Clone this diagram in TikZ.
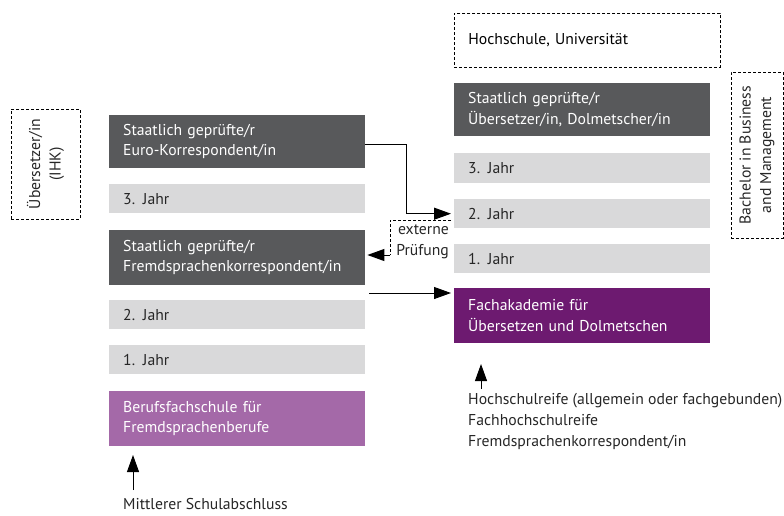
\documentclass[tikz,border=0pt]{standalone}
\usepackage{fontspec}
\setmainfont{PT Sans}
\usetikzlibrary{arrows.meta,positioning}
\definecolor{dgray}{HTML}{58595B}
\definecolor{lgray}{HTML}{D9D9DA}
\definecolor{lpurp}{HTML}{A469A8}
\definecolor{dpurp}{HTML}{6D1A70}
\begin{document}
\begin{tikzpicture}[x=1pt,y=-1pt,
  every node/.style={font=\fontsize{15.7}{20.5}\selectfont},
  box/.style={anchor=north west, minimum width=256pt, text width=228pt, inner xsep=14pt, inner ysep=0pt, align=left},
  darkbox/.style={box, fill=dgray, text=white, minimum height=53pt},
  yearbox/.style={box, fill=lgray, text=black!85, minimum height=29pt},
  lpbox/.style={box, fill=lpurp, text=white, minimum height=55pt},
  dpbox/.style={box, fill=dpurp, text=white, minimum height=55pt},
  dashbox/.style={draw, dashed, line width=0.8pt, dash pattern=on 3pt off 2pt},
  arr/.style={-{Triangle[length=17pt,width=12pt]}, line width=1pt},
  plain/.style={anchor=north west, inner sep=0pt, align=left, text=black!85}
]
\useasboundingbox (0,0) rectangle (784,515);
% left column
\node[darkbox] (L1) at (109,115) {Staatlich geprüfte/r\\Euro-Korrespondent/in};
\node[yearbox] (L2) at (109,184) {3. Jahr};
\node[darkbox, minimum height=55pt] (L3) at (109,230) {Staatlich geprüfte/r\\Fremdsprachenkorrespondent/in};
\node[yearbox] (L4) at (109,300) {2. Jahr};
\node[yearbox] (L5) at (109,345) {1. Jahr};
\node[lpbox] (L6) at (109,391) {Berufsfachschule für\\Fremdsprachenberufe};
\node[plain, anchor=south west] (L7) at (123,510) {Mittlerer Schulabschluss};
\coordinate (L7a) at (133,490);
\draw[arr] (L7a) -- (133,455);
% right column
\node[box, dashbox, minimum height=54pt, minimum width=266pt, text width=238pt] (R0) at (454,13) {Hochschule, Universität};
\node[darkbox] (R1) at (454,83) {Staatlich geprüfte/r\\Übersetzer/in, Dolmetscher/in};
\node[yearbox, minimum height=30pt] (R2) at (454,153) {3. Jahr};
\node[yearbox] (R3) at (454,199) {2. Jahr};
\node[yearbox] (R4) at (454,244) {1. Jahr};
\node[dpbox] (R5) at (454,288) {Fachakademie für\\Übersetzen und Dolmetschen};
\node[plain, font=\fontsize{15.7}{21}\selectfont] (R6) at (468,393) {Hochschulreife (allgemein oder fachgebunden)\\Fachhochschulreife\\Fremdsprachenkorrespondent/in};
\coordinate (R6a) at (481,389);
\draw[arr] (R6a) -- (481,364);
% side dashed boxes
\node[dashbox, minimum width=69pt, minimum height=110pt, inner sep=0pt] (S1) at (45.5,164) {};
\node[rotate=90, align=center, text=black!85] (S1t) at (S1.center) {Übersetzer/in\\(IHK)};
\node[dashbox, minimum width=52pt, minimum height=166pt, inner sep=0pt] (S2) at (757,155) {};
\node[rotate=90, align=center, text=black!85] (S2t) at (S2.center) {Bachelor in Business\\and Management};
% connectors
\draw[arr, shorten >=3pt] ([yshift=-3pt]L1.east) -- ++(41,0) |- (R3.west);
\coordinate (ex1) at (451,220);
\draw[dashed, line width=0.8pt, dash pattern=on 3pt off 2pt] (ex1) -- (390,220) -- (390,255);
\coordinate (ex2) at (390,255);
\draw[arr, shorten >=2pt] (ex2) -- (L3.east |- ex2);
\node[plain, align=right, anchor=north east] (ext) at (449,225) {externe\\Prüfung};
\draw[arr, shorten >=3pt] (L4.north east |- 0,293) ++(4,0) coordinate (c1) -- (c1 -| R5.west);
\end{tikzpicture}
\end{document}
